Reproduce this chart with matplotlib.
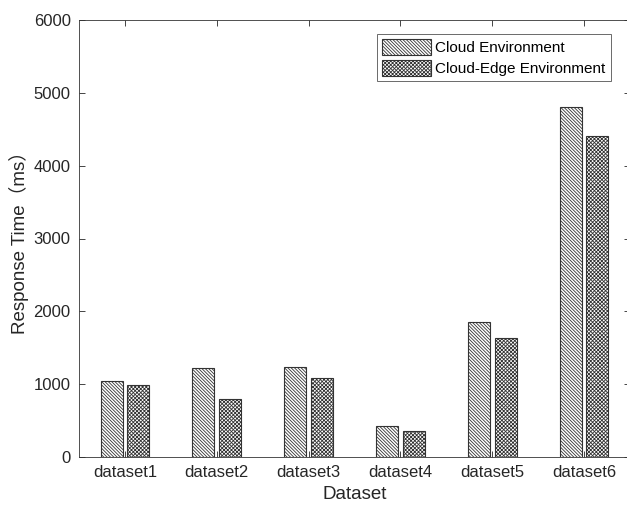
import numpy as np
import matplotlib
matplotlib.use("Agg")
import matplotlib.pyplot as plt

# data
datasets = ["dataset1", "dataset2", "dataset3", "dataset4", "dataset5", "dataset6"]
cloud = [1045, 1220, 1240, 420, 1860, 4810]
cloud_edge = [990, 800, 1080, 360, 1640, 4410]
series_names = ["Cloud Environment", "Cloud-Edge Environment"]

plt.rcParams["font.family"] = ["Liberation Sans", "Noto Sans CJK SC", "DejaVu Sans"]
plt.rcParams["hatch.linewidth"] = 0.6
plt.rcParams["hatch.color"] = "#606060"

W, H = 627, 505
fig = plt.figure(figsize=(W / 100, H / 100), dpi=100)
ax = fig.add_axes([79 / W, (H - 457) / H, (630 - 79) / W, (457 - 20) / H])

x = np.arange(1, len(datasets) + 1)
bw = 0.24
off = 0.145
ax.bar(x - off, cloud, bw, facecolor="white", edgecolor="#333333",
       linewidth=0.8, hatch="\\" * 10, label=series_names[0])
ax.bar(x + off, cloud_edge, bw, facecolor="white", edgecolor="#333333",
       linewidth=0.8, hatch="x" * 9, label=series_names[1])

ax.set_xlim(0.5, 6.5)
ax.set_ylim(0, 6000)
ax.set_xticks(x)
ax.set_xticklabels(datasets)
ax.set_yticks(np.arange(0, 6001, 1000))

ax.tick_params(direction="in", top=True, right=True, length=4, width=0.6,
               colors="#262626", labelsize=12, pad=6)
for s in ax.spines.values():
    s.set_color("#333333")
    s.set_linewidth(0.6)

ax.set_xlabel("Dataset", fontsize=13.5, color="#262626", labelpad=4)
ax.set_ylabel("Response Time（ms）", fontsize=13.5, color="#262626", labelpad=3)

leg = ax.legend(loc="upper right", bbox_to_anchor=(611 / W, 1 - 34 / H),
                bbox_transform=fig.transFigure, fontsize=11, frameon=True,
                fancybox=False, handlelength=3.2, handleheight=1.2,
                borderpad=0.35, labelspacing=0.3, handletextpad=0.3,
                borderaxespad=0)
leg.get_frame().set_edgecolor("#444444")
leg.get_frame().set_linewidth(0.7)

fig.savefig("out.png", dpi=100)
